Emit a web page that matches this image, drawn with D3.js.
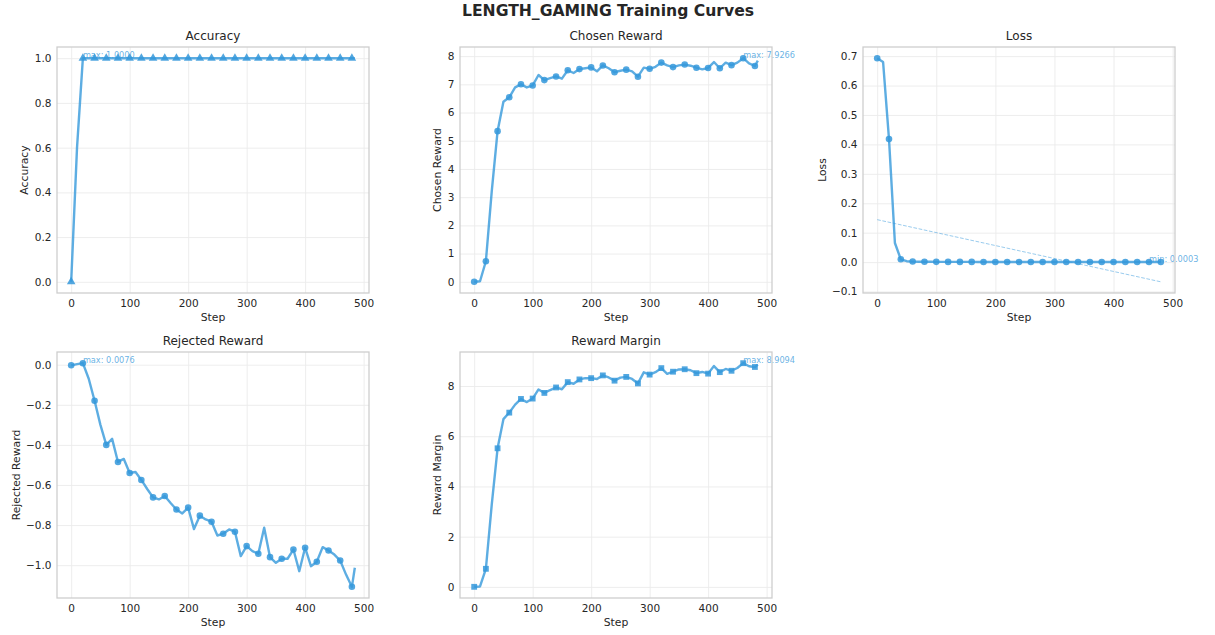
<!DOCTYPE html>
<html>
<head>
<meta charset="utf-8">
<script src="https://cdn.jsdelivr.net/npm/d3@7"></script>
<style>
  body { margin: 0; background: #fff; }
  svg { display: block; font-family: "DejaVu Sans", sans-serif; }
</style>
</head>
<body>
<svg id="visualizacion"></svg>
<script>
// 0) Constantes y datos
const WIDTH = 1215;
const HEIGHT = 635;

const pasos = [0, 10, 20, 30, 40, 50, 60, 70, 80, 90, 100, 110, 120, 130, 140, 150, 160, 170, 180, 190,
    200, 210, 220, 230, 240, 250, 260, 270, 280, 290, 300, 310, 320, 330, 340, 350, 360, 370, 380, 390,
    400, 410, 420, 430, 440, 450, 460, 470, 480, 485];

const accuracy = [0, 0.6, 1, 1, 1, 1, 1, 1, 1, 1, 1, 1, 1, 1, 1, 1, 1, 1, 1, 1,
    1, 1, 1, 1, 1, 1, 1, 1, 1, 1, 1, 1, 1, 1, 1, 1, 1, 1, 1, 1,
    1, 1, 1, 1, 1, 1, 1, 1, 1, 1];

const chosen = [0.0, 0.02, 0.73, 3.2, 5.34, 6.38, 6.54, 6.89, 7.0, 6.89, 6.96, 7.33, 7.15, 7.22, 7.28, 7.2,
    7.5, 7.4, 7.54, 7.57, 7.6, 7.46, 7.67, 7.57, 7.43, 7.48, 7.52, 7.46, 7.27, 7.59, 7.55, 7.62, 7.77,
    7.67, 7.61, 7.67, 7.7, 7.66, 7.59, 7.53, 7.58, 7.79, 7.57, 7.77, 7.68, 7.77, 7.9266, 7.74, 7.65, 7.84];

// la perdida solo llega hasta el paso 480
const loss = [0.693, 0.68, 0.418, 0.065, 0.0095, 0.003, 0.0018, 0.0014, 0.0012, 0.0011, 0.0009, 0.0009,
    0.0008, 0.0008, 0.0007, 0.0007, 0.0007, 0.0006, 0.0006, 0.0006, 0.0006, 0.0005, 0.0005, 0.0005,
    0.0005, 0.0005, 0.0005, 0.0005, 0.0006, 0.0004, 0.0004, 0.0004, 0.0004, 0.0005, 0.0004, 0.0004,
    0.0004, 0.0004, 0.0004, 0.0004, 0.0004, 0.0004, 0.0004, 0.0004, 0.0004, 0.0004, 0.0003, 0.0004, 0.0004];

const rejected = [-0.003, 0.003, 0.0076, -0.07, -0.18, -0.30, -0.40, -0.37, -0.485, -0.47, -0.54, -0.535,
    -0.575, -0.62, -0.662, -0.672, -0.655, -0.69, -0.722, -0.742, -0.713, -0.82, -0.753, -0.772, -0.783,
    -0.852, -0.843, -0.822, -0.833, -0.955, -0.905, -0.93, -0.943, -0.813, -0.96, -0.988, -0.968, -0.968,
    -0.922, -1.03, -0.913, -1.005, -0.983, -0.91, -0.927, -0.947, -0.977, -1.047, -1.108, -1.013];

const margin = [0.003, 0.017, 0.72, 3.27, 5.52, 6.68, 6.94, 7.26, 7.485, 7.36, 7.5, 7.865, 7.725, 7.84,
    7.942, 7.872, 8.155, 8.09, 8.262, 8.312, 8.313, 8.28, 8.423, 8.342, 8.213, 8.332, 8.363, 8.282, 8.103,
    8.545, 8.455, 8.55, 8.713, 8.483, 8.57, 8.658, 8.668, 8.628, 8.512, 8.56, 8.493, 8.795, 8.553, 8.68,
    8.607, 8.717, 8.9094, 8.787, 8.758, 8.853];

const ticksX = [0, 100, 200, 300, 400, 500];
const ticksAccuracy = [0, 0.2, 0.4, 0.6, 0.8, 1.0];
const ticksChosen = [0, 1, 2, 3, 4, 5, 6, 7, 8];
const ticksLoss = [-0.1, 0, 0.1, 0.2, 0.3, 0.4, 0.5, 0.6, 0.7];
const ticksRejected = [-1.0, -0.8, -0.6, -0.4, -0.2, 0.0];
const ticksMargin = [0, 2, 4, 6, 8];

const COLOR = "#3498db";
const TEXTO = "#262626";
const anchoVis = 312;
const altoVis = 246;

const svg = d3.select("#visualizacion")
    .attr("width", WIDTH)
    .attr("height", HEIGHT);

svg.append("rect").attr("width", WIDTH).attr("height", HEIGHT).attr("fill", "#fff");

svg.append("text")
    .attr("x", 608)
    .attr("y", 15.5)
    .attr("text-anchor", "middle")
    .attr("font-size", 15.6)
    .attr("font-weight", "bold")
    .attr("fill", TEXTO)
    .text("LENGTH_GAMING Training Curves");

// margen automatico del 5% como matplotlib
const acolchar = ([a, b]) => [a - (b - a) * 0.05, b + (b - a) * 0.05];

// 1) Funcion que dibuja un panel completo
const dibujarPanel = (cfg) => {
    const g = svg.append("g").attr("transform", `translate(${cfg.left}, ${cfg.top})`);

    const escalaX = d3.scaleLinear()
        .domain(acolchar(d3.extent(cfg.x)))
        .range([0, anchoVis]);

    const extremosY = d3.extent(cfg.y.concat(cfg.extra || []));
    const escalaY = d3.scaleLinear()
        .domain(acolchar(extremosY))
        .range([altoVis, 0]);

    // ejes con la grilla incluida (tickSize negativo)
    const ejeX = g.append("g")
        .attr("transform", `translate(0, ${altoVis})`)
        .call(d3.axisBottom(escalaX).tickValues(ticksX).tickSize(-altoVis).tickPadding(6.3));

    const ejeY = g.append("g")
        .call(d3.axisLeft(escalaY).tickValues(cfg.ticksY).tickFormat(d3.format(cfg.formato))
            .tickSize(-anchoVis).tickPadding(5.5));

    [ejeX, ejeY].forEach(eje => {
        eje.select(".domain").remove();
        eje.selectAll(".tick line").attr("stroke", "#ebebeb").attr("stroke-width", 0.9);
        eje.selectAll(".tick text")
            .attr("fill", TEXTO)
            .attr("font-size", 10.5)
            .attr("font-family", "DejaVu Sans, sans-serif");
    });

    // linea de tendencia (solo para la perdida)
    if (cfg.tendencia) {
        g.append("line")
            .attr("x1", escalaX(cfg.tendencia[0][0]))
            .attr("y1", escalaY(cfg.tendencia[0][1]))
            .attr("x2", escalaX(cfg.tendencia[1][0]))
            .attr("y2", escalaY(cfg.tendencia[1][1]))
            .attr("stroke", COLOR)
            .attr("stroke-opacity", 0.5)
            .attr("stroke-width", 1)
            .attr("stroke-dasharray", "3.7,1.6");
    }

    const datos = cfg.x.map((d, i) => ({ paso: d, valor: cfg.y[i], i: i }));

    const linea = d3.line()
        .x(d => escalaX(d.paso))
        .y(d => escalaY(d.valor));

    g.append("path")
        .datum(datos)
        .attr("d", linea)
        .attr("fill", "none")
        .attr("stroke", COLOR)
        .attr("stroke-opacity", 0.8)
        .attr("stroke-width", 2.4)
        .attr("stroke-linejoin", "round");

    // marcadores cada dos puntos
    const simbolo = d3.symbol().type(cfg.simbolo).size(cfg.tamano);
    g.selectAll(".marca")
        .data(datos.filter(d => d.i % 2 === 0))
        .join("path")
        .attr("class", "marca")
        .attr("transform", d => `translate(${escalaX(d.paso)}, ${escalaY(d.valor)})`)
        .attr("d", simbolo)
        .attr("fill", COLOR)
        .attr("fill-opacity", 0.85);

    // anotacion del maximo o minimo
    const idx = cfg.anotar === "min" ? d3.minIndex(cfg.y) : d3.maxIndex(cfg.y);
    g.append("text")
        .attr("x", escalaX(cfg.x[idx]))
        .attr("y", escalaY(cfg.y[idx]))
        .attr("font-size", 8.2)
        .attr("fill", COLOR)
        .attr("fill-opacity", 0.75)
        .text(`${cfg.anotar}: ${cfg.y[idx].toFixed(4)}`);

    // marco del panel
    g.append("rect")
        .attr("width", anchoVis)
        .attr("height", altoVis)
        .attr("fill", "none")
        .attr("stroke", "#cccccc")
        .attr("stroke-width", 1.25);

    g.append("text")
        .attr("x", anchoVis / 2)
        .attr("y", -10.8)
        .attr("text-anchor", "middle")
        .attr("dominant-baseline", "central")
        .attr("font-size", 12)
        .attr("fill", TEXTO)
        .text(cfg.titulo);

    g.append("text")
        .attr("x", anchoVis / 2)
        .attr("y", altoVis + 24.4)
        .attr("text-anchor", "middle")
        .attr("dominant-baseline", "central")
        .attr("font-size", 10.8)
        .attr("fill", TEXTO)
        .text("Step");

    // la etiqueta Y se separa segun el ancho de los numeros
    let anchoMax = 0;
    ejeY.selectAll(".tick text").each(function () {
        anchoMax = Math.max(anchoMax, this.getComputedTextLength());
    });
    const xEtiqueta = -(anchoMax + 5.5 + 10);
    g.append("text")
        .attr("transform", `translate(${xEtiqueta}, ${altoVis / 2}) rotate(-90)`)
        .attr("text-anchor", "middle")
        .attr("dominant-baseline", "central")
        .attr("font-size", 10.8)
        .attr("fill", TEXTO)
        .text(cfg.titulo);
};

// 2) Tendencia lineal de la perdida (minimos cuadrados)
const pasosLoss = pasos.slice(0, loss.length);
const mediaX = d3.mean(pasosLoss);
const mediaY = d3.mean(loss);
const pendiente = d3.sum(pasosLoss, (p, i) => (p - mediaX) * (loss[i] - mediaY)) /
    d3.sum(pasosLoss, p => (p - mediaX) ** 2);
const corte = mediaY - pendiente * mediaX;
const xsTend = d3.extent(pasosLoss);
const tendencia = xsTend.map(p => [p, corte + pendiente * p]);

dibujarPanel({ titulo: "Accuracy", left: 57, top: 47, x: pasos, y: accuracy, ticksY: ticksAccuracy,
    formato: ".1f", simbolo: d3.symbolTriangle, tamano: 32, anotar: "max" });
dibujarPanel({ titulo: "Chosen Reward", left: 460, top: 47, x: pasos, y: chosen, ticksY: ticksChosen,
    formato: "d", simbolo: d3.symbolCircle, tamano: 34, anotar: "max" });
dibujarPanel({ titulo: "Loss", left: 863, top: 47, x: pasosLoss, y: loss, ticksY: ticksLoss,
    formato: ".1f", simbolo: d3.symbolCircle, tamano: 34, anotar: "min",
    tendencia: tendencia, extra: tendencia.map(d => d[1]) });
dibujarPanel({ titulo: "Rejected Reward", left: 57, top: 352, x: pasos, y: rejected, ticksY: ticksRejected,
    formato: ".1f", simbolo: d3.symbolCircle, tamano: 34, anotar: "max" });
dibujarPanel({ titulo: "Reward Margin", left: 460, top: 352, x: pasos, y: margin, ticksY: ticksMargin,
    formato: "d", simbolo: d3.symbolSquare, tamano: 34, anotar: "max" });
</script>
</body>
</html>
